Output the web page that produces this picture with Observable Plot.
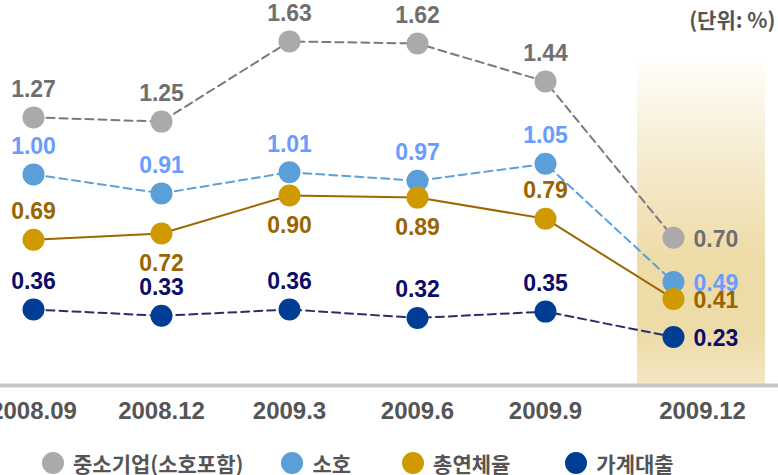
<!DOCTYPE html>
<html>
<head>
<meta charset="utf-8">
<script src="https://cdn.jsdelivr.net/npm/d3@7"></script>
<script src="https://cdn.jsdelivr.net/npm/@observablehq/plot@0.6"></script>
<style>
  html, body { margin: 0; padding: 0; background: #fff; }
  body { width: 778px; height: 475px; position: relative; overflow: hidden;
         font-family: "Liberation Sans", Arial, "Noto Sans CJK KR", sans-serif; }
  #legend { position: absolute; left: 42px; top: 452px; height: 22px; display: flex; align-items: center;
            font-family: "Noto Sans CJK KR", sans-serif; font-weight: 700; font-size: 21px; line-height: 22px; color: #555; }
  #legend .item { display: flex; align-items: center; }
  #legend .sw { width: 22px; height: 22px; border-radius: 50%; margin-right: 9px; }
</style>
</head>
<body>
<div id="chart"></div>
<div id="legend"></div>
<script>
// ---- data ----
const periods = ["2008.09", "2008.12", "2009.3", "2009.6", "2009.9", "2009.12"];
const seriesNames = ["중소기업(소호포함)", "소호", "총연체율", "가계대출"];
const smeValues = [1.27, 1.25, 1.63, 1.62, 1.44, 0.70];
const sohoValues = [1.00, 0.91, 1.01, 0.97, 1.05, 0.49];
const totalValues = [0.69, 0.72, 0.90, 0.89, 0.79, 0.41];
const householdValues = [0.36, 0.33, 0.36, 0.32, 0.35, 0.23];
const unitLabel = "(단위: %)";
const highlightPeriod = "2009.12";

// ---- styles ----
const styles = {
  "중소기업(소호포함)": {dot: "#aaaaaa", line: "#7a7a7a", label: "#6f6f6f", dash: "8,5", sides: ["above","above","above","above","above","right"]},
  "소호":              {dot: "#5a9fd8", line: "#5aa0dc", label: "#6a9cff", dash: "8,5", sides: ["above","above","above","above","above","right"]},
  "총연체율":          {dot: "#cf9a00", line: "#9c6700", label: "#9a6400", dash: null,  sides: ["above","below","below","below","above","right"]},
  "가계대출":          {dot: "#003d94", line: "#2c2c6c", label: "#0c0c6a", dash: "8,5", sides: ["above","above","above","above","above","right"]}
};
const valueLists = [smeValues, sohoValues, totalValues, householdValues];

const rows = [];
seriesNames.forEach((s, si) => {
  valueLists[si].forEach((v, i) => rows.push({series: s, period: periods[i], value: v, side: styles[s].sides[i]}));
});

const marks = [];
marks.push(Plot.cell([highlightPeriod], {x: d => d, fill: "url(#hlGrad)", dx: 28, insetTop: 58}));
marks.push(Plot.ruleY([0], {stroke: "#c8c8c8", strokeWidth: 4}));
for (const s of seriesNames) {
  const st = styles[s];
  marks.push(Plot.line(rows.filter(d => d.series === s), {x: "period", y: "value", stroke: st.line, strokeWidth: 2, strokeDasharray: st.dash || undefined}));
}
for (const s of seriesNames) {
  const st = styles[s];
  marks.push(Plot.dot(rows.filter(d => d.series === s), {x: "period", y: "value", r: 11, fill: st.dot, stroke: null}));
}
const fmt = d => d.value.toFixed(2);
for (const s of seriesNames) {
  const st = styles[s];
  const data = rows.filter(d => d.series === s);
  const common = {x: "period", y: "value", text: fmt, fill: st.label, fontSize: 23, fontWeight: "bold"};
  marks.push(Plot.text(data.filter(d => d.side === "above"), {...common, dy: -28}));
  marks.push(Plot.text(data.filter(d => d.side === "below"), {...common, dy: 30}));
  marks.push(Plot.text(data.filter(d => d.side === "right"), {...common, textAnchor: "start", dx: 20, dy: 2}));
}
const axisOpts = {tickSize: 0, tickPadding: 16, fontSize: 24, fontWeight: "bold", fill: "#555", label: null};
marks.push(Plot.axisX(periods.filter(p => p !== highlightPeriod), axisOpts));
marks.push(Plot.axisX([highlightPeriod], {...axisOpts, dx: 29}));
marks.push(Plot.text([unitLabel], {frameAnchor: "top-right", dx: -3, dy: 8, fontSize: 21, fontWeight: "bold", fill: "#555",
  fontFamily: "'Noto Sans CJK KR', sans-serif"}));

const svg = Plot.plot({
  width: 778,
  height: 430,
  marginTop: 5,
  marginBottom: 45,
  marginLeft: 0,
  marginRight: 0,
  style: {fontFamily: "'Liberation Sans', Arial, 'Noto Sans CJK KR', sans-serif", background: "#fff", overflow: "visible"},
  x: {type: "band", domain: periods, range: [-31, 737], padding: 0, label: null},
  y: {domain: [0, 1.8], axis: null},
  marks
});

// gradient for highlight band
const ns = "http://www.w3.org/2000/svg";
const defs = document.createElementNS(ns, "defs");
const grad = document.createElementNS(ns, "linearGradient");
grad.setAttribute("id", "hlGrad");
grad.setAttribute("x1", "0"); grad.setAttribute("y1", "0");
grad.setAttribute("x2", "0"); grad.setAttribute("y2", "1");
[[0, "#fffdf8"], [0.35, "#f4e8c8"], [0.6, "#eedca8"], [0.85, "#eedca8"], [1, "#f3e6c4"]].forEach(([o, c]) => {
  const stop = document.createElementNS(ns, "stop");
  stop.setAttribute("offset", o);
  stop.setAttribute("stop-color", c);
  grad.appendChild(stop);
});
defs.appendChild(grad);
svg.insertBefore(defs, svg.firstChild);
document.getElementById("chart").appendChild(svg);

// legend
const legend = document.getElementById("legend");
const gaps = [38, 51, 55];
seriesNames.forEach((s, i) => {
  const item = document.createElement("div");
  item.className = "item";
  if (i < seriesNames.length - 1) item.style.marginRight = gaps[i] + "px";
  const sw = document.createElement("span");
  sw.className = "sw";
  sw.style.background = styles[s].dot;
  const lab = document.createElement("span");
  lab.textContent = s;
  item.appendChild(sw);
  item.appendChild(lab);
  legend.appendChild(item);
});
</script>
</body>
</html>
